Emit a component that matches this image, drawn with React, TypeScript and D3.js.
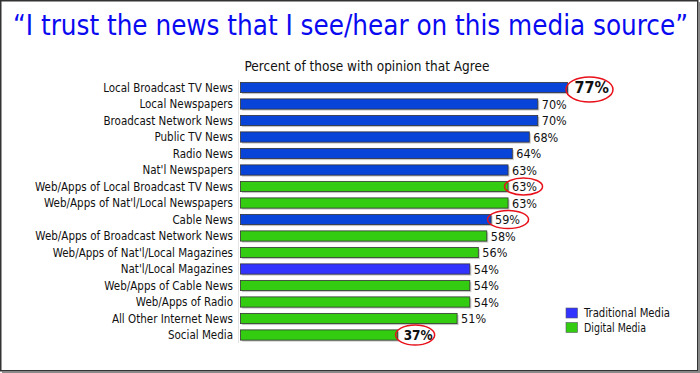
import React from "react";
import * as d3 from "d3";

const categories = [
  "Local Broadcast TV News",
  "Local Newspapers",
  "Broadcast Network News",
  "Public TV News",
  "Radio News",
  "Nat'l Newspapers",
  "Web/Apps of Local Broadcast TV News",
  "Web/Apps of Nat'l/Local Newspapers",
  "Cable News",
  "Web/Apps of Broadcast Network News",
  "Web/Apps of Nat'l/Local Magazines",
  "Nat'l/Local Magazines",
  "Web/Apps of Cable News",
  "Web/Apps of Radio",
  "All Other Internet News",
  "Social Media",
];
const values = [77, 70, 70, 68, 64, 63, 63, 63, 59, 58, 56, 54, 54, 54, 51, 37];
const types = ["T", "T", "T", "T", "T", "T", "D", "D", "T", "D", "D", "T2", "D", "D", "D", "D"];
const highlighted = [0, 6, 8, 15];
const boldLabels = [0, 15];
const legendItems = ["Traditional Media", "Digital Media"];

const W = 700;
const H = 373;

export default function App() {
  const x = d3.scaleLinear().domain([0, 77]).range([240.5, 567.5]);
  const y = d3
    .scaleBand()
    .domain(categories)
    .range([79.25, 79.25 + 16.5 * 16])
    .paddingInner(0.38)
    .paddingOuter(0.19);
  const color = (t: string) =>
    t === "T" ? "#0844D8" : t === "T2" ? "#3333FF" : "#33CC11";
  const bh = y.bandwidth();
  const labelFont = "'DejaVu Sans Condensed', 'DejaVu Sans', sans-serif";

  return (
    <svg
      width={W}
      height={H}
      style={{ position: "absolute", left: 0, top: 0, display: "block" }}
    >
      <rect x={0} y={0} width={W} height={H} fill="#fff" />
      <rect x={0.75} y={0.75} width={W - 3} height={H - 3} fill="none" stroke="#333" strokeWidth={1.5} />
      <line x1={W - 1} y1={2} x2={W - 1} y2={H} stroke="#888" strokeWidth={2} />
      <line x1={2} y1={H - 1} x2={W} y2={H - 1} stroke="#888" strokeWidth={2} />
      <text
        x={13}
        y={35}
        fill="#0A0AF0"
        fontFamily={labelFont}
        fontSize={28}
        textLength={675}
        lengthAdjust="spacingAndGlyphs"
      >
        “I trust the news that I see/hear on this media source”
      </text>
      <text
        x={367}
        y={71}
        textAnchor="middle"
        fontFamily={labelFont}
        fontSize={13.5}
        fill="#111"
      >
        Percent of those with opinion that Agree
      </text>
      <line x1={238.5} y1={80} x2={238.5} y2={343} stroke="#e4e4e4" strokeWidth={1} />
      {categories.map((c, i) => {
        const yy = y(c)!;
        const v = values[i];
        const xe = x(v);
        const bold = boldLabels.includes(i);
        return (
          <g key={c}>
            <text
              x={233}
              y={yy + bh / 2}
              dy="0.35em"
              textAnchor="end"
              fontFamily={labelFont}
              fontSize={11.5}
              fill="#111"
            >
              {c}
            </text>
            <rect x={x(0) + 1.5} y={yy + 1.5} width={xe - x(0)} height={bh} fill="#c8c8c8" />
            <rect
              x={x(0)}
              y={yy}
              width={xe - x(0)}
              height={bh}
              fill={color(types[i])}
              stroke="#333"
              strokeWidth={0.8}
            />
            <text
              x={xe + (i === 0 ? 7 : i === 15 ? 6 : 4)}
              y={yy + bh / 2}
              dy="0.36em"
              fontFamily={labelFont}
              fontSize={i === 0 ? 16 : i === 15 ? 13.5 : 12.5}
              fontWeight={bold ? "bold" : "normal"}
              fill="#111"
            >
              {v}%
            </text>
          </g>
        );
      })}
      {highlighted.map((i) => {
        const c = categories[i];
        const yy = y(c)! + bh / 2;
        const xe = x(values[i]);
        const dims =
          i === 0 ? { cx: 22, rx: 23.5, ry: 12.5, dy: 2 } :
          i === 15 ? { cx: 17.5, rx: 19.5, ry: 10, dy: 0 } :
          i === 6 ? { cx: 15.5, rx: 19, ry: 8.5, dy: 0 } :
          { cx: 17, rx: 20.5, ry: 9, dy: 0 };
        return (
          <ellipse
            key={"e" + i}
            cx={xe + dims.cx}
            cy={yy + dims.dy}
            rx={dims.rx}
            ry={dims.ry}
            fill="none"
            stroke="#E8101A"
            strokeWidth={1.5}
          />
        );
      })}
      {legendItems.map((l, i) => (
        <g key={l}>
          <rect
            x={566}
            y={308 + i * 14.5}
            width={11.5}
            height={10}
            fill={i === 0 ? "#3333FF" : "#33CC11"}
            stroke="#556"
            strokeWidth={0.6}
          />
          <text
            x={584}
            y={313 + i * 14.5}
            dy="0.36em"
            fontFamily={labelFont}
            fontSize={11.5}
            fill="#111"
            textLength={i === 0 ? 86 : 62}
            lengthAdjust="spacingAndGlyphs"
          >
            {l}
          </text>
        </g>
      ))}
    </svg>
  );
}
